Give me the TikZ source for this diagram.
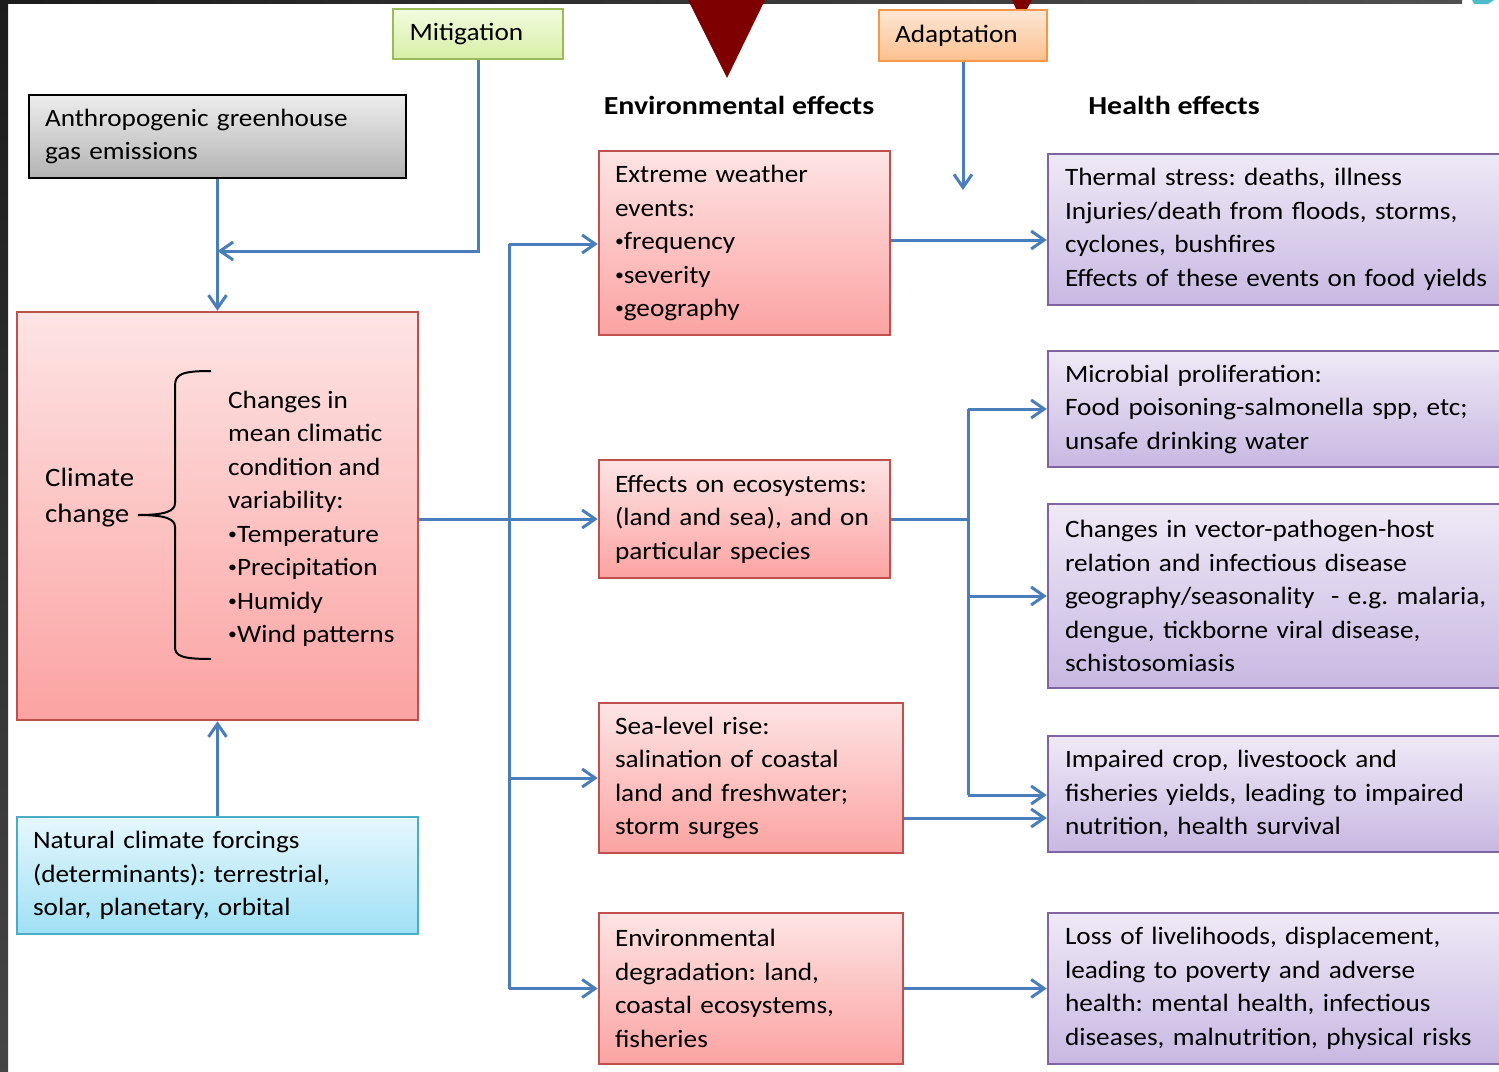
\documentclass[tikz,border=0pt]{standalone}
\usepackage{fontspec}
\usepackage{graphicx}
\setmainfont{Carlito}[FakeStretch=1.09]
\newfontfamily\hdrfont{Carlito}[FakeStretch=1.15]
\usetikzlibrary{arrows.meta,calc,shadings}
\definecolor{linkblue}{HTML}{4A7EBB}
\definecolor{redb}{HTML}{C0504D}
\definecolor{redt}{HTML}{FDE4E4}
\definecolor{redbot}{HTML}{FBA3A2}
\definecolor{purb}{HTML}{8064A2}
\definecolor{purt}{HTML}{EEE9F6}
\definecolor{purbot}{HTML}{C8B8E2}
\definecolor{blub}{HTML}{4BACC6}
\definecolor{blut}{HTML}{E6F7FD}
\definecolor{blubot}{HTML}{9FE0F5}
\definecolor{grayt}{HTML}{EDEDED}
\definecolor{graybot}{HTML}{B3B3B3}
\definecolor{greenb}{HTML}{9BBB59}
\definecolor{greent}{HTML}{F2FBDF}
\definecolor{greenbot}{HTML}{D6EFA6}
\definecolor{orab}{HTML}{F79646}
\definecolor{orat}{HTML}{FDE7D5}
\definecolor{orabot}{HTML}{FBC08E}
\definecolor{darkred}{HTML}{7F0000}
\definecolor{bardark}{HTML}{1C1C1C}
\definecolor{bargray}{HTML}{505050}
\definecolor{teal}{HTML}{4BBCC8}
\newcommand{\bul}{\raisebox{0.12em}{\scalebox{0.65}{•}}}
\frenchspacing
\begin{document}
\begin{tikzpicture}[x=1pt,y=-1pt,
  every node/.style={font=\fontsize{25}{33.5}\selectfont, inner ysep=0pt},
  box/.style={rectangle, align=left, inner xsep=16pt, line width=2.5pt},
  redbox/.style={box, draw=redb, top color=redt, bottom color=redbot},
  purbox/.style={box, draw=purb, top color=purt, bottom color=purbot, inner xsep=17pt,
     minimum width=472pt, text width=438pt},
  conn/.style={draw=linkblue, line width=3pt, -{Straight Barb[length=13pt,width=18pt]}},
  plain/.style={draw=linkblue, line width=3pt},
  header/.style={font=\fontsize{26}{30}\selectfont\hdrfont\bfseries, inner sep=0pt},
  bracepath/.style={draw=black, line width=2pt}
]
\clip (0,0) rectangle (1499,1071);
\fill[white] (0,0) rectangle (1499,1071);
% slide frame remnants
\shade[top color=bardark, bottom color=bargray!80!bardark] (0,0) rectangle (8,1071);
\shade[left color=bardark, right color=bargray] (0,0) rectangle (1462,3.5);
\fill[teal] (1472,0) -- (1494,0) -- (1488,4) -- (1474,4) -- cycle;
\fill[darkred] (688,0) -- (765,0) -- (727,78) -- cycle;
\fill[darkred] (1012,0) -- (1032,0) -- (1021,20) -- cycle;

% left column
\node[box, draw=greenb, line width=2pt, top color=greent, bottom color=greenbot,
  minimum width=170pt, minimum height=50pt, text width=137pt, inner xsep=16.5pt] (mitig) at (478,34) {Mitigation};
\node[box, draw=orab, line width=2pt, top color=orat, bottom color=orabot,
  minimum width=168pt, minimum height=51pt, text width=136pt] (adapt) at (963,35.5) {Adaptation};
\node[box, draw=black, top color=grayt, bottom color=graybot,
  minimum width=377pt, minimum height=83pt, text width=345pt] (anth) at (217.5,136.5)
  {Anthropogenic greenhouse\\gas emissions};
\node[box, draw=redb, top color=redt, bottom color=redbot,
  minimum width=401pt, minimum height=408pt] (clim) at (217.5,516) {};
\node[anchor=west, align=left, inner sep=0pt, font=\fontsize{26.5}{36}\selectfont] (climlbl) at (45,498) {Climate\\change};
\node[anchor=west, align=left, inner sep=0pt] (climlist) at (228,519)
  {Changes in\\mean climatic\\condition and\\variability:\\\bul Temperature\\\bul Precipitation\\\bul Humidy\\\bul Wind patterns};
\draw[bracepath] (211,371) .. controls (182,371) and (175,374) .. (175,386) -- (175,503)
  .. controls (175,511) and (166,515) .. (138,515);
\draw[bracepath] (138,515) .. controls (166,515) and (175,519) .. (175,527) -- (175,647)
  .. controls (175,656) and (182,659) .. (211,659);
\node[box, draw=blub, line width=2pt, top color=blut, bottom color=blubot,
  minimum width=401pt, minimum height=117pt, text width=369pt] (nat) at (217.5,875.5)
  {Natural climate forcings\\(determinants): terrestrial,\\solar, planetary, orbital};

% headers
\node[header] (envh) at (739,105) {Environmental effects};
\node[header] (healh) at (1174,105) {Health effects};

% environmental effects
\node[redbox, minimum width=291pt, minimum height=184pt, text width=259pt] (ext) at (744.5,243)
  {Extreme weather\\events:\\\bul frequency\\\bul severity\\\bul geography};
\node[redbox, minimum width=291pt, minimum height=118pt, text width=259pt] (eco) at (744.5,519)
  {Effects on ecosystems:\\(land and sea), and on\\particular species};
\node[redbox, minimum width=304pt, minimum height=150pt, text width=272pt] (sea) at (751,778)
  {Sea-level rise:\\salination of coastal\\land and freshwater;\\storm surges};
\node[redbox, minimum width=304pt, minimum height=151pt, text width=272pt] (deg) at (751,988.5)
  {Environmental\\degradation: land,\\coastal ecosystems,\\fisheries};

% health effects
\node[purbox, minimum height=151pt] (therm) at (1284,229.5)
  {Thermal stress: deaths, illness\\Injuries/death\ from floods, storms,\\cyclones, bushfires\\Effects of these events on food yields};
\node[purbox, minimum height=116pt] (micro) at (1284,409)
  {Microbial proliferation:\\Food poisoning-salmonella spp, etc;\\unsafe drinking water};
\node[purbox, minimum height=184pt] (vec) at (1284,596)
  {Changes in vector-pathogen-host\\relation and infectious disease\\geography/seasonality\ \ - e.g. malaria,\\dengue, tickborne viral disease,\\schistosomiasis};
\node[purbox, minimum height=116pt] (crop) at (1284,794)
  {Impaired crop, livestoock and\\fisheries yields, leading to impaired\\nutrition, health survival};
\node[purbox, minimum height=151pt] (loss) at (1284,988.5)
  {Loss of livelihoods, displacement,\\leading to poverty and adverse\\health: mental health, infectious\\diseases, malnutrition, physical risks};

% connectors
\coordinate (mitjoin) at (478,251);
\coordinate (mitend) at (anth.south |- mitjoin);
\draw[conn] (anth.south) -- (clim.north);
\draw[conn] (mitig.south) -- (mitjoin) -- (mitend);
\draw[conn] (nat.north) -- (clim.south);
\coordinate (adend) at (963,190);
\draw[conn] (adapt.south) -- (adend);

\coordinate (trtop) at (509,244);
\coordinate (trbot) at (trtop |- deg.west);
\draw[plain] (trtop) -- (trbot);
\draw[conn] (trtop) -- (trtop -| ext.west);
\draw[conn] (clim.east |- eco.west) -- (eco.west);
\draw[conn] (trtop |- sea.west) -- (sea.west);
\draw[conn] (trbot) -- (deg.west);

\draw[conn] ([yshift=3pt]ext.east) -- ([yshift=3pt]ext.east -| therm.west);
\coordinate (hjoin) at (968,519);
\coordinate (htop) at (hjoin |- micro.west);
\coordinate (hbot) at (968,795);
\draw[plain] (eco.east) -- (hjoin);
\draw[plain] (htop) -- (hbot);
\draw[conn] (htop) -- (micro.west);
\draw[conn] (hjoin |- vec.west) -- (vec.west);
\draw[conn] (hbot) -- (hbot -| crop.west);
\draw[conn] ([yshift=-40pt]sea.east) -- ([yshift=-40pt]sea.east -| crop.west);
\draw[conn] (deg.east) -- (loss.west);
\end{tikzpicture}
\end{document}
